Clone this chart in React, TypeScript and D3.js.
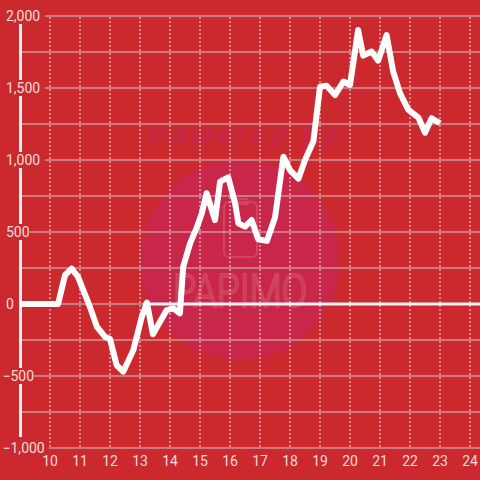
import React from "react";
import * as d3 from "d3";

const hours = [9.0, 10.27, 10.5, 10.72, 10.93, 11.33, 11.56, 11.83, 12.0, 12.22, 12.44, 12.78, 13.06, 13.23, 13.43, 13.89, 14.11, 14.33, 14.44, 14.67, 14.89, 15.06, 15.22, 15.5, 15.67, 15.94, 16.17, 16.28, 16.5, 16.72, 16.94, 17.23, 17.5, 17.78, 18.0, 18.28, 18.5, 18.78, 19.0, 19.22, 19.5, 19.78, 20.0, 20.27, 20.44, 20.72, 20.94, 21.22, 21.44, 21.67, 21.94, 22.28, 22.5, 22.72, 23.0];
const values = [0, 0, 200, 245, 190, -20, -157, -227, -243, -424, -470, -320, -88, 10, -210, -42, -30, -65, 259, 421, 530, 630, 769, 583, 850, 880, 700, 560, 537, 583, 450, 438, 600, 1023, 930, 870, 1000, 1130, 1509, 1515, 1451, 1545, 1521, 1903, 1725, 1753, 1690, 1868, 1613, 1463, 1350, 1295, 1190, 1290, 1255];
const xTicks = [10, 11, 12, 13, 14, 15, 16, 17, 18, 19, 20, 21, 22, 23, 24];
const yLabelTicks = [-1000, -500, 0, 500, 1000, 1500, 2000];
const yGridTicks = [-1000, -750, -500, -250, 0, 250, 500, 750, 1000, 1250, 1500, 1750, 2000];
const zeroLineStart = 13.1;

const W = 480;
const H = 480;
const BG = "#cc292e";
const LABEL = "#f4dcdc";

export default function App() {
  const x = d3.scaleLinear().domain([10, 24]).range([50, 470]);
  const y = d3.scaleLinear().domain([-1000, 2000]).range([448, 16]);
  const line = d3
    .line<number>()
    .x((_, i) => x(hours[i]))
    .y((d) => y(d))
    .curve(d3.curveLinear);
  const fmt = d3.format(",");
  const font = "Roboto, 'Liberation Sans', Arial, sans-serif";

  return (
    <div style={{ position: "absolute", left: 0, top: 0 }}>
      <svg width={W} height={H} style={{ display: "block" }}>
        <rect x={0} y={0} width={W} height={H} fill={BG} />
        {/* watermark */}
        <g>
          <circle cx={240} cy={260} r={100} fill="#c9274a" />
          <text
            x={243}
            y={145}
            textAnchor="middle"
            fontFamily={font}
            fontWeight="bold"
            fontStyle="italic"
            fontSize={28}
            textLength={186}
            fill="#c7284a"
          >
            Powered by
          </text>
          <rect x={224} y={202} width={33} height={55} rx={5} fill="none" stroke="#d04660" strokeWidth={2} />
          <rect x={234} y={199} width={14} height={5} rx={1} fill="none" stroke="#d04660" strokeWidth={2} />
          <text
            x={240}
            y={307}
            textAnchor="middle"
            fontFamily={font}
            fontWeight={300}
            fontSize={46}
            textLength={134}
            lengthAdjust="spacingAndGlyphs"
            fill="none"
            stroke="#d04660"
            strokeWidth={2}
          >
            PAPIMO
          </text>
        </g>
        {/* horizontal grid */}
        {yGridTicks.map((t) => (
          <line key={"h" + t} x1={20} x2={W} y1={y(t)} y2={y(t)} stroke="#c9c9c9" strokeWidth={1.2} />
        ))}
        {/* vertical dotted grid */}
        {xTicks.map((t) => (
          <line
            key={"v" + t}
            x1={x(t)}
            x2={x(t)}
            y1={17}
            y2={448}
            stroke="#e6e6e6"
            strokeWidth={1}
            strokeDasharray="2,2"
          />
        ))}
        {/* y axis line */}
        <line x1={20.5} x2={20.5} y1={24} y2={437} stroke="#f2f2f2" strokeWidth={3} />
        {/* zero line */}
        <line x1={x(zeroLineStart)} x2={W} y1={y(0)} y2={y(0)} stroke="#f4f4f4" strokeWidth={3} />
        {/* y labels with background */}
        {yLabelTicks.map((t) => {
          const s = fmt(t);
          const xs = t < 0 ? 2.5 : 6;
          const w = s.length * 7.6 + 3;
          return (
            <g key={"yl" + t}>
              <rect x={xs - 2} y={y(t) - 8} width={w} height={16} fill={BG} />
              <text
                x={xs}
                y={y(t) + 5}
                fontFamily={font}
                fontSize={14}
                fill={LABEL}
              >
                {s}
              </text>
            </g>
          );
        })}
        {/* data line */}
        <path
          d={line(values) || ""}
          fill="none"
          stroke="#ffffff"
          strokeWidth={6}
          strokeLinejoin="round"
          strokeLinecap="butt"
        />
        {/* x labels */}
        {xTicks.map((t) => (
          <text
            key={"xl" + t}
            x={x(t)}
            y={466}
            textAnchor="middle"
            fontFamily={font}
            fontSize={14}
            fill={LABEL}
          >
            {t}
          </text>
        ))}
      </svg>
    </div>
  );
}
